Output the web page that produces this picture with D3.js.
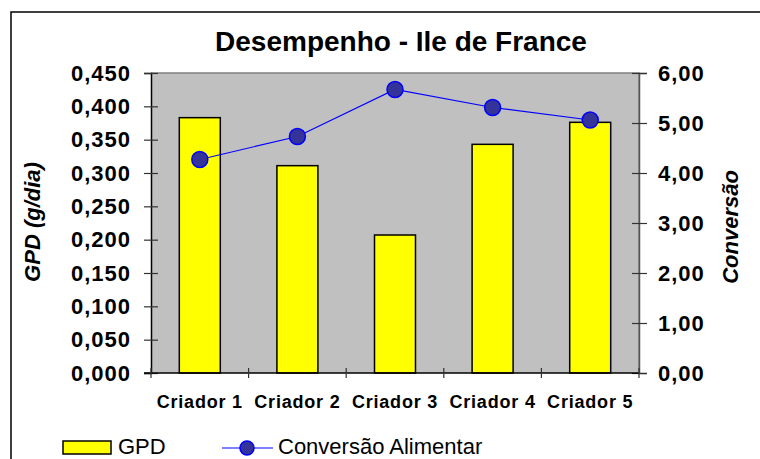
<!DOCTYPE html>
<head>
<meta charset="utf-8">
<title>Desempenho - Ile de France</title>
<style>
body { margin: 0; background: #fff; }
text { font-family: Arial, "Liberation Sans", sans-serif; }
</style>
<script src="https://cdn.jsdelivr.net/npm/d3@7"></script>
</head>
<body>
<svg id="chart" width="760" height="459"></svg>
<script>
// values
var criadores = ["Criador 1", "Criador 2", "Criador 3", "Criador 4", "Criador 5"];
var gpd = [0.383, 0.311, 0.207, 0.343, 0.376];
var conversao = [4.27, 4.73, 5.67, 5.31, 5.06];
var gpdTicks = [0, 0.05, 0.1, 0.15, 0.2, 0.25, 0.3, 0.35, 0.4, 0.45];
var convTicks = [0, 1, 2, 3, 4, 5, 6];

var pt = d3.formatLocale({decimal: ",", thousands: ".", grouping: [3], currency: ["", ""]});
var f3 = pt.format(".3f"), f2 = pt.format(".2f");

var svg = d3.select("#chart");
var pLeft = 151, pRight = 639, pTop = 73, pBottom = 373;

// outer frame
svg.append("rect").attr("x", 11).attr("y", 12).attr("width", 800).attr("height", 500)
  .attr("fill", "#fff").attr("stroke", "#000").attr("stroke-width", 1.5);

svg.append("text").attr("x", 401).attr("y", 51).attr("text-anchor", "middle")
  .attr("font-size", 28).attr("font-weight", "bold").text("Desempenho - Ile de France");

var x = d3.scaleBand().domain(criadores).range([pLeft, pRight]).padding(0);
var yL = d3.scaleLinear().domain([0, 0.45]).range([pBottom, pTop]);
var yR = d3.scaleLinear().domain([0, 6]).range([pBottom, pTop]);

// plot area
svg.append("rect").attr("x", pLeft).attr("y", pTop).attr("width", pRight - pLeft).attr("height", pBottom - pTop)
  .attr("fill", "#c0c0c0");
svg.append("path").attr("d", "M" + pLeft + "," + pTop + "H" + pRight + "V" + pBottom)
  .attr("fill", "none").attr("stroke", "#808080").attr("stroke-width", 1.5);

var bw = x.bandwidth() * 0.42;
svg.selectAll(".bar").data(gpd).enter().append("rect").attr("class", "bar")
  .attr("x", function(d, i) { return x(criadores[i]) + x.bandwidth() / 2 - bw / 2; })
  .attr("y", function(d) { return yL(d); })
  .attr("width", bw)
  .attr("height", function(d) { return pBottom - yL(d); })
  .attr("fill", "#ffff00").attr("stroke", "#000").attr("stroke-width", 1.5);

// axes
var axL = svg.append("g").attr("transform", "translate(" + pLeft + ",0)")
  .call(d3.axisLeft(yL).tickValues(gpdTicks).tickFormat(f3).tickSize(7).tickPadding(13));
axL.selectAll(".tick line").attr("x1", 7);
var axR = svg.append("g").attr("transform", "translate(" + pRight + ",0)")
  .call(d3.axisRight(yR).tickValues(convTicks).tickFormat(f2).tickSize(8).tickPadding(11));
axR.selectAll(".tick line").attr("x1", -7);
[axL, axR].forEach(function(a) {
  a.select(".domain").attr("stroke", a === axL ? "#000" : "#555").attr("stroke-width", 1.5);
  a.selectAll(".tick line").attr("stroke", "#333").attr("stroke-width", 1.2);
  a.selectAll("text").attr("font-size", 22).attr("font-weight", "bold").attr("fill", "#000")
    .attr("letter-spacing", 1).attr("font-family", "Arial, 'Liberation Sans', sans-serif");
});

var bounds = criadores.map(function(c) { return x(c); }).concat([pRight]);
svg.append("line").attr("x1", pLeft - 7).attr("x2", pRight).attr("y1", pBottom).attr("y2", pBottom)
  .attr("stroke", "#000").attr("stroke-width", 1.5);
svg.selectAll(".xt").data(bounds).enter().append("line").attr("class", "xt")
  .attr("x1", function(d) { return d; }).attr("x2", function(d) { return d; })
  .attr("y1", pBottom - 5).attr("y2", pBottom + 5).attr("stroke", "#333").attr("stroke-width", 1.2);
svg.selectAll(".xl").data(criadores).enter().append("text").attr("class", "xl")
  .attr("x", function(d) { return x(d) + x.bandwidth() / 2; }).attr("y", 408)
  .attr("text-anchor", "middle").attr("font-size", 18).attr("font-weight", "bold")
  .attr("letter-spacing", 0.8).text(function(d) { return d; });

// line series
var line = d3.line().x(function(d, i) { return x(criadores[i]) + x.bandwidth() / 2; })
  .y(function(d) { return yR(d); });
svg.append("path").datum(conversao).attr("d", line).attr("fill", "none")
  .attr("stroke", "#0000ff").attr("stroke-width", 1.2);
svg.selectAll(".pt").data(conversao).enter().append("circle").attr("class", "pt")
  .attr("cx", function(d, i) { return x(criadores[i]) + x.bandwidth() / 2; })
  .attr("cy", function(d) { return yR(d); }).attr("r", 8)
  .attr("fill", "#333399").attr("stroke", "#0000ff").attr("stroke-width", 1.5);

// axis titles
svg.append("text").attr("transform", "translate(40,222) rotate(-90)").attr("text-anchor", "middle")
  .attr("font-size", 22).attr("font-weight", "bold").attr("font-style", "italic").text("GPD (g/dia)");
svg.append("text").attr("transform", "translate(738,227) rotate(-90)").attr("text-anchor", "middle")
  .attr("font-size", 22).attr("font-weight", "bold").attr("font-style", "italic").text("Conversão");

// legend
svg.append("rect").attr("x", 63).attr("y", 441).attr("width", 48).attr("height", 13)
  .attr("fill", "#ffff00").attr("stroke", "#000").attr("stroke-width", 1.5);
svg.append("text").attr("x", 118).attr("y", 454).attr("font-size", 22).text("GPD");
svg.append("line").attr("x1", 222).attr("x2", 273).attr("y1", 448).attr("y2", 448)
  .attr("stroke", "#0000ff").attr("stroke-width", 1.2);
svg.append("circle").attr("cx", 247).attr("cy", 448).attr("r", 7)
  .attr("fill", "#333399").attr("stroke", "#0000ff").attr("stroke-width", 1.5);
svg.append("text").attr("x", 278).attr("y", 454).attr("font-size", 22).text("Conversão Alimentar");
</script>
</body>
